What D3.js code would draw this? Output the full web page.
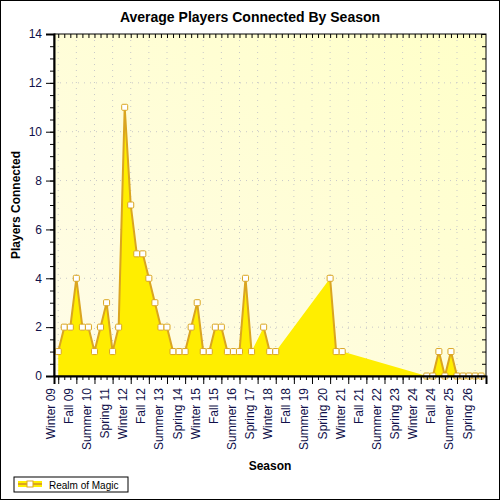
<!DOCTYPE html>
<html><head><meta charset="utf-8">
<script src="https://cdn.jsdelivr.net/npm/d3@7"></script>
<style>body{margin:0;background:#fff}svg{display:block}</style>
</head><body><svg id="c" width="500" height="500"></svg>
<script>
const seasonNames = ["Winter","Spring","Summer","Fall"];
const tickLabels = ["Winter 09","Fall 09","Summer 10","Spring 11","Winter 12","Fall 12","Summer 13","Spring 14","Winter 15","Fall 15","Summer 16","Spring 17","Winter 18","Fall 18","Summer 19","Spring 20","Winter 21","Fall 21","Summer 22","Spring 23","Winter 24","Fall 24","Summer 25","Spring 26"];
const players = [1,2,2,4,2,2,1,2,3,1,2,11,7,5,5,4,3,2,2,1,1,1,2,3,1,1,2,2,1,1,1,4,1,null,2,1,1,null,null,null,null,null,null,null,null,4,1,1,null,null,null,null,null,null,null,null,null,null,null,null,null,0,0,1,0,1,0,0,0,0,0];
const yTicks = [0,2,4,6,8,10,12,14];

const svg = d3.select("#c");
const L=54,R=486,T=34,B=376;
const x = d3.scaleLinear().domain([-0.7,70.8]).range([L,R]);
const y = d3.scaleLinear().domain([0,14]).range([B,T]);
const data = players.map((v,i)=>({i,v}));
const defined = data.filter(d=>d.v!==null);

svg.append("rect").attr("x",0.5).attr("y",0.5).attr("width",499).attr("height",499).attr("fill","#fff").attr("stroke","#000");
const defs = svg.append("defs");
const g = defs.append("linearGradient").attr("id","bg").attr("x1","0").attr("y1","1").attr("x2","1").attr("y2","0");
g.append("stop").attr("offset","0").attr("stop-color","#fffce8");
g.append("stop").attr("offset","1").attr("stop-color","#ffffc8");
svg.append("rect").attr("x",L).attr("y",T).attr("width",R-L).attr("height",B-T).attr("fill","url(#bg)");

// grid
const majorIdx = tickLabels.map((_,k)=>k*3);
svg.append("g").selectAll("line").data(majorIdx).join("line")
 .attr("x1",d=>x(d)).attr("x2",d=>x(d)).attr("y1",T).attr("y2",B)
 .attr("stroke","#c8c8c8").attr("stroke-dasharray","1,5");
svg.append("g").selectAll("line").data(yTicks.slice(1,-1)).join("line")
 .attr("x1",L).attr("x2",R).attr("y1",d=>y(d)).attr("y2",d=>y(d))
 .attr("stroke","#c8c8c8").attr("stroke-dasharray","1,5");

// area
svg.append("path").datum(defined)
 .attr("d",d3.area().x(d=>x(d.i)).y0(y(0)).y1(d=>y(d.v)))
 .attr("fill","#ffee00");
svg.append("path").datum(data)
 .attr("d",d3.line().defined(d=>d.v!==null).x(d=>x(d.i)).y(d=>y(d.v)))
 .attr("fill","none").attr("stroke","#daa520").attr("stroke-width",2);
svg.append("g").selectAll("rect").data(defined).join("rect")
 .attr("x",d=>x(d.i)-3).attr("y",d=>y(d.v)-3).attr("width",6).attr("height",6).attr("rx",1)
 .attr("fill","#fff").attr("stroke","#daa520").attr("stroke-width",1);

// frame
svg.append("rect").attr("x",L).attr("y",T).attr("width",R-L).attr("height",B-T).attr("fill","none").attr("stroke","#000");

// axes
const seasons = d3.range(71);
const xAxis = d3.axisBottom(x).tickValues(seasons).tickSize(4).tickFormat("");
svg.append("g").attr("transform",`translate(0,${B})`).call(xAxis).call(a=>a.select(".domain").remove());
const xMaj = d3.axisBottom(x).tickValues(majorIdx).tickSize(8).tickFormat((d,k)=>tickLabels[k]);
const xg = svg.append("g").attr("transform",`translate(0,${B})`).call(xMaj);
xg.select(".domain").attr("stroke","#000").attr("stroke-width",2);
xg.selectAll("text").attr("transform","rotate(-90)").attr("x",-12).attr("y",-4).attr("dy","0")
 .style("text-anchor","end").attr("font-family","Liberation Sans, Arial").attr("font-size",12).attr("fill","#10104a");
const xTop = d3.axisBottom(x).tickValues(seasons).tickSize(4).tickFormat("");
svg.append("g").attr("transform",`translate(0,${T})`).call(xTop).call(a=>a.select(".domain").remove());

const minorY = d3.range(0,14.01,0.5);
const yMin = d3.axisLeft(y).tickValues(minorY).tickSize(4).tickFormat("");
svg.append("g").attr("transform",`translate(${L},0)`).call(yMin).call(a=>a.select(".domain").remove());
const yg = svg.append("g").attr("transform",`translate(${L},0)`).call(d3.axisLeft(y).tickValues(yTicks).tickSize(8).tickFormat(d3.format("d")));
yg.select(".domain").attr("stroke-width",2);
yg.selectAll("text").attr("font-family","Liberation Sans, Arial").attr("font-size",12).attr("fill","#10104a").attr("x",-12);
svg.append("g").attr("transform",`translate(${R},0)`).call(d3.axisLeft(y).tickValues(minorY).tickSize(4).tickFormat("")).call(a=>a.select(".domain").remove());

// titles
svg.append("text").attr("x",250).attr("y",22).attr("text-anchor","middle").attr("font-family","Liberation Sans, Arial").attr("font-weight","bold").attr("font-size",14).text("Average Players Connected By Season");
svg.append("text").attr("x",270).attr("y",470).attr("text-anchor","middle").attr("font-family","Liberation Sans, Arial").attr("font-weight","bold").attr("font-size",12).text("Season");
svg.append("text").attr("transform","translate(20,205) rotate(-90)").attr("text-anchor","middle").attr("font-family","Liberation Sans, Arial").attr("font-weight","bold").attr("font-size",12).text("Players Connected");

// legend
const lg = svg.append("g").attr("transform","translate(14,477)");
lg.append("rect").attr("width",114).attr("height",15).attr("fill","#fff").attr("stroke","#000");
lg.append("rect").attr("x",4).attr("y",4).attr("width",24).attr("height",6).attr("fill","#ffee00");
lg.append("line").attr("x1",4).attr("x2",28).attr("y1",7).attr("y2",7).attr("stroke","#daa520").attr("stroke-width",2);
lg.append("rect").attr("x",13).attr("y",4).attr("width",6).attr("height",6).attr("fill","#fff").attr("stroke","#daa520");
lg.append("text").attr("x",35).attr("y",11.5).attr("font-family","Liberation Sans, Arial").attr("font-size",10).text("Realm of Magic");
</script></body></html>
